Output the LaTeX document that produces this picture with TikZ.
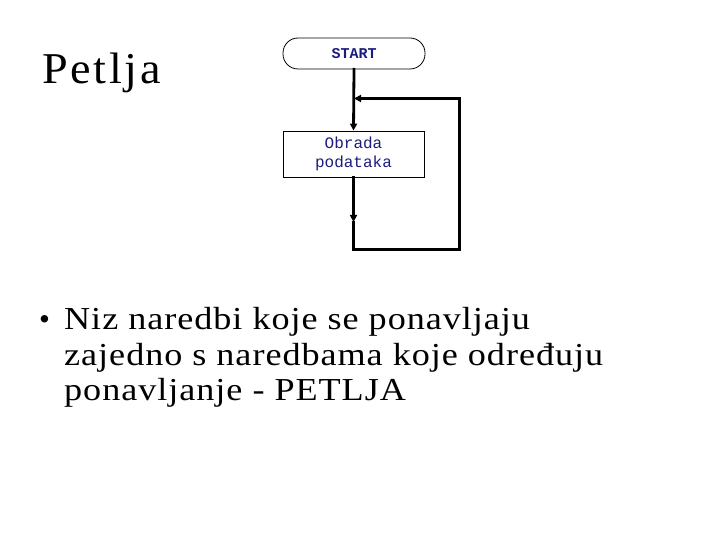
\documentclass[tikz,border=0pt]{standalone}
\usepackage{fontspec}
\setmainfont{Liberation Serif}
\newfontfamily\monofam{Liberation Mono}
\newfontfamily\widefam[FakeStretch=1.13,LetterSpace=3]{Liberation Serif}
\newfontfamily\titlefam[FakeStretch=1.05,LetterSpace=6]{Liberation Serif}
\usetikzlibrary{arrows.meta}
\definecolor{navy}{RGB}{28,28,128}
\tikzset{
  conn/.style={line width=2.8pt, line cap=rect},
  tip/.style={-{Triangle[length=7pt,width=7pt]}},
  startbox/.style={draw, line width=0.8pt, rounded corners=15pt, minimum width=142pt, minimum height=31pt, inner sep=0pt, text=navy, font=\monofam\bfseries\fontsize{15}{18}\selectfont},
  procbox/.style={draw, line width=0.8pt, minimum width=141pt, minimum height=46pt, inner sep=0pt, align=center, text=navy, font=\monofam\fontsize{16}{19}\selectfont},
  bodyline/.style={anchor=base west, inner sep=0pt, font=\widefam\fontsize{32}{36}\selectfont},
}
\begin{document}
\begin{tikzpicture}[x=1pt,y=-1pt]
\useasboundingbox (0,0) rectangle (720,540);
\node[anchor=base west, inner sep=0pt, font=\titlefam\fontsize{44}{52}\selectfont] (title) at (42,83.5) {Petlja};
\node[startbox] (start) at (354,53.5) {START};
\node[procbox] (proc) at (353.5,154) {Obrada\\podataka};
\coordinate (mid) at (353.5,222);
\coordinate (bl) at (353.5,249.5);
\coordinate (br) at (459.5,249.5);
\coordinate (tr) at (459.5,98.5);
\coordinate (tl) at (354,98.5);
\draw[conn,tip] (start.south) -- (proc.north);
\draw[conn,tip] (proc.south) -- (mid);
\draw[conn] (mid) -- (bl) -- (br) -- (tr) -- ++(-10,0);
\draw[conn,tip] (tr) -- (tl);
\node[anchor=base west, inner sep=0pt, font=\fontsize{31}{36}\selectfont] (bullet) at (39,329.5) {\textbullet};
\node[bodyline] (l1) at (64,329.5) {Niz naredbi koje se ponavljaju};
\node[bodyline] (l2) at (64,365) {zajedno s naredbama koje određuju};
\node[bodyline] (l3) at (64,400.5) {ponavljanje - PETLJA};
\end{tikzpicture}
\end{document}
